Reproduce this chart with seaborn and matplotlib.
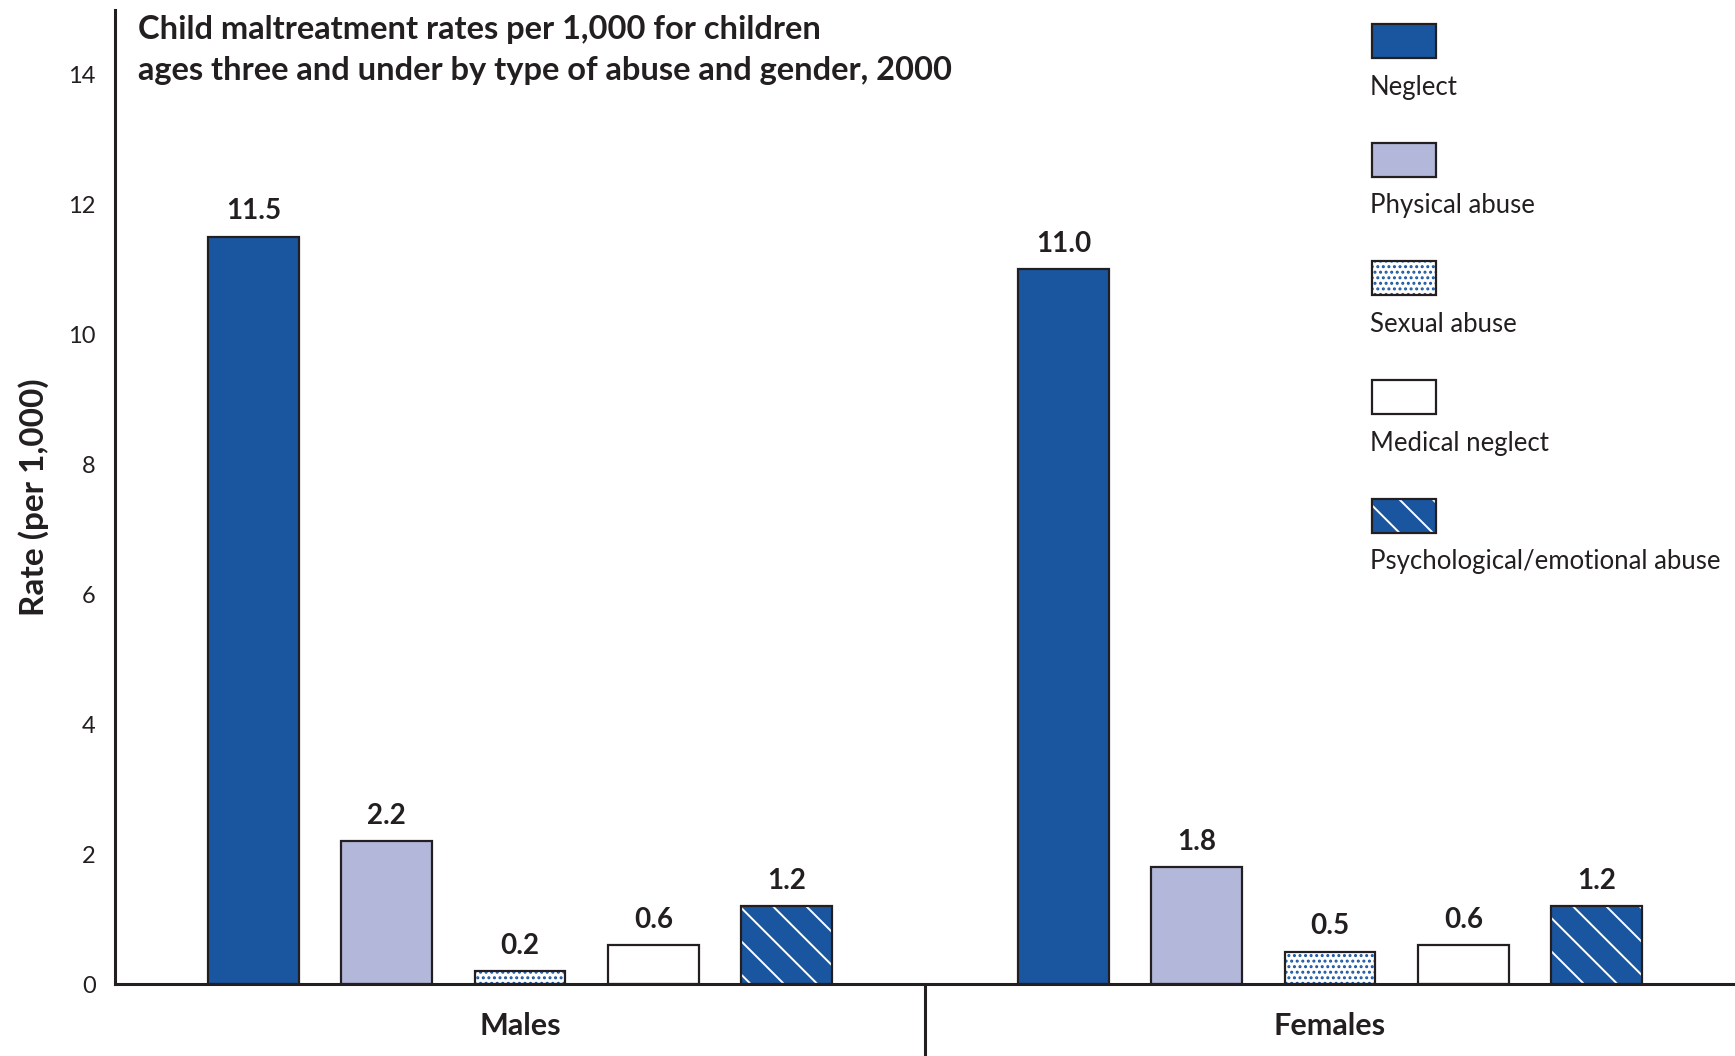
import matplotlib
matplotlib.use("Agg")
import matplotlib.pyplot as plt
from matplotlib.patches import Rectangle
from matplotlib.colors import to_rgba
import seaborn as sns
import pandas as pd

# chart data
genders = ["Males", "Females"]
abuse_types = ["Neglect", "Physical abuse", "Sexual abuse", "Medical neglect",
               "Psychological/emotional abuse"]
males_rate = [11.5, 2.2, 0.2, 0.6, 1.2]
females_rate = [11.0, 1.8, 0.5, 0.6, 1.2]
y_ticks = [0, 2, 4, 6, 8, 10, 12, 14]

BLUE = "#1A56A0"
LAV = "#B3B8DB"
EDGE = "#231F20"
face_colors = {"Neglect": BLUE, "Physical abuse": LAV, "Sexual abuse": "white",
               "Medical neglect": "white", "Psychological/emotional abuse": BLUE}
hatches = {"Sexual abuse": ("...", BLUE), "Psychological/emotional abuse": ("\\", "white")}

df = pd.DataFrame({
    "gender": [g for g in genders for _ in abuse_types],
    "type": abuse_types * 2,
    "rate": males_rate + females_rate,
})

sns.set_style("white")
plt.rcParams["font.family"] = ["Lato", "DejaVu Sans"]
plt.rcParams["hatch.linewidth"] = 1.4

fig = plt.figure(figsize=(17.35, 10.56), dpi=100)
ax = fig.add_axes([0.0663, 0.068, 0.9337, 0.923])

sns.barplot(data=df, x="gender", y="rate", hue="type", order=genders,
            hue_order=abuse_types, palette=face_colors, width=0.823, gap=0.32,
            edgecolor=EDGE, linewidth=1.6, saturation=1, legend=False, ax=ax)

for cont, t in zip(ax.containers, abuse_types):
    for p in cont:
        p.set_facecolor(face_colors[t])
        if t in hatches:
            p.set_hatch(hatches[t][0])
            p._hatch_color = to_rgba(hatches[t][1])
    ax.bar_label(cont, fmt="%.1f", padding=9, fontsize=20, fontweight="bold",
                 color=EDGE)

ax.set_ylim(0, 15)
ax.set_xlim(-0.5, 1.5)
ax.set_yticks(y_ticks)
ax.tick_params(axis="y", length=0, pad=14, labelsize=17, labelcolor=EDGE)
ax.tick_params(axis="x", length=0, pad=20)
for lbl in ax.get_xticklabels():
    lbl.set_fontsize(22)
    lbl.set_fontweight("bold")
    lbl.set_color(EDGE)
ax.set_xlabel("")
ax.set_ylabel("Rate (per 1,000)", fontsize=24, fontweight="bold", color=EDGE,
              labelpad=14)
sns.despine(ax=ax, top=True, right=True)
for s in ["left", "bottom"]:
    ax.spines[s].set_color(EDGE)
    ax.spines[s].set_linewidth(2.2)

# separator between the two groups
ax.plot([0.5, 0.5], [0, -0.08], transform=ax.get_xaxis_transform(),
        color=EDGE, lw=2.2, clip_on=False)

fig.text(0.0795, 0.986, "Child maltreatment rates per 1,000 for children\n"
         "ages three and under by type of abuse and gender, 2000",
         ha="left", va="top", fontsize=23.5, fontweight="bold", color=EDGE,
         linespacing=1.5)

# legend: swatch with label underneath
W, H = 1735, 1056
for i, t in enumerate(abuse_types):
    top = 24 + i * 118.7
    r = Rectangle((1372 / W, 1 - (top + 34) / H), 64 / W, 34 / H,
                  transform=fig.transFigure, facecolor=face_colors[t],
                  edgecolor=EDGE, linewidth=1.6)
    if t in hatches:
        r.set_hatch(hatches[t][0])
        r._hatch_color = to_rgba(hatches[t][1])
    fig.add_artist(r)
    fig.text(1370 / W, 1 - (top + 63) / H, t, ha="left", va="center",
             fontsize=18.5, color=EDGE)

fig.savefig("out.png", dpi=100)
